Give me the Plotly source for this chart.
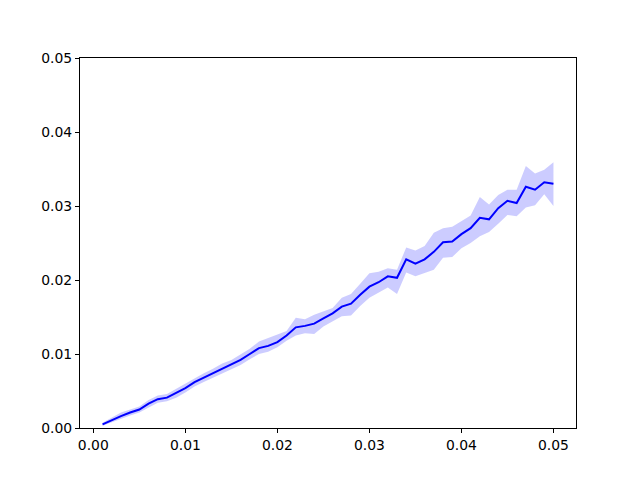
import plotly.graph_objects as go

x_vals = [round(0.001 * i, 3) for i in range(1, 51)]
mean_vals = [0.0005, 0.0011, 0.0016, 0.0021, 0.0025, 0.0033, 0.0039, 0.0041, 0.0047, 0.0054,
             0.0062, 0.0068, 0.0074, 0.0080, 0.0086, 0.0092, 0.0100, 0.0108, 0.0111, 0.0116,
             0.0125, 0.0136, 0.0138, 0.0141, 0.0148, 0.0155, 0.0164, 0.0168, 0.0180, 0.0191,
             0.0197, 0.0205, 0.0203, 0.0228, 0.0222, 0.0228, 0.0238, 0.0251, 0.0252, 0.0262,
             0.0270, 0.0284, 0.0282, 0.0297, 0.0307, 0.0304, 0.0326, 0.0322, 0.0332, 0.0330]
lower_vals = [0.0003, 0.0008, 0.0012, 0.0017, 0.0021, 0.0028, 0.0034, 0.0036, 0.0041, 0.0048,
              0.0056, 0.0062, 0.0068, 0.0074, 0.0079, 0.0085, 0.0093, 0.0100, 0.0103, 0.0109,
              0.0118, 0.0125, 0.0128, 0.0127, 0.0137, 0.0144, 0.0151, 0.0152, 0.0165, 0.0176,
              0.0183, 0.0190, 0.0181, 0.0210, 0.0205, 0.0210, 0.0214, 0.0230, 0.0231, 0.0243,
              0.0250, 0.0259, 0.0265, 0.0276, 0.0288, 0.0286, 0.0298, 0.0301, 0.0316, 0.0300]
upper_vals = [0.0007, 0.0014, 0.0021, 0.0025, 0.0029, 0.0038, 0.0044, 0.0046, 0.0053, 0.0060,
              0.0068, 0.0074, 0.0080, 0.0087, 0.0092, 0.0099, 0.0107, 0.0117, 0.0122, 0.0127,
              0.0131, 0.0149, 0.0147, 0.0153, 0.0157, 0.0162, 0.0176, 0.0181, 0.0195, 0.0209,
              0.0211, 0.0216, 0.0214, 0.0244, 0.0240, 0.0246, 0.0264, 0.0270, 0.0272, 0.0279,
              0.0287, 0.0312, 0.0302, 0.0315, 0.0322, 0.0322, 0.0354, 0.0344, 0.0349, 0.0359]
tick_vals = [0.0, 0.01, 0.02, 0.03, 0.04, 0.05]
tick_text = ["0.00", "0.01", "0.02", "0.03", "0.04", "0.05"]

fig = go.Figure()
fig.add_trace(go.Scatter(x=x_vals, y=upper_vals, mode="lines", line=dict(width=0),
                         hoverinfo="skip", showlegend=False))
fig.add_trace(go.Scatter(x=x_vals, y=lower_vals, mode="lines", line=dict(width=0),
                         fill="tonexty", fillcolor="rgba(0,0,255,0.2)",
                         hoverinfo="skip", showlegend=False))
fig.add_trace(go.Scatter(x=x_vals, y=mean_vals, mode="lines",
                         line=dict(color="#0000ff", width=2), showlegend=False))

axis_common = dict(showgrid=False, zeroline=False, showline=True, linecolor="black",
                   linewidth=1, mirror=True, ticks="outside", ticklen=4, tickcolor="black",
                   tickfont=dict(family="DejaVu Sans", size=13.9, color="black"),
                   tickvals=tick_vals, ticktext=tick_text)
fig.update_xaxes(range=[-0.00145, 0.05245], **axis_common)
fig.update_yaxes(range=[0, 0.05], **axis_common)
fig.update_layout(width=640, height=480, plot_bgcolor="white", paper_bgcolor="white",
                  margin=dict(l=72, r=72, t=50, b=60, autoexpand=False))
fig.write_html("out.html")
